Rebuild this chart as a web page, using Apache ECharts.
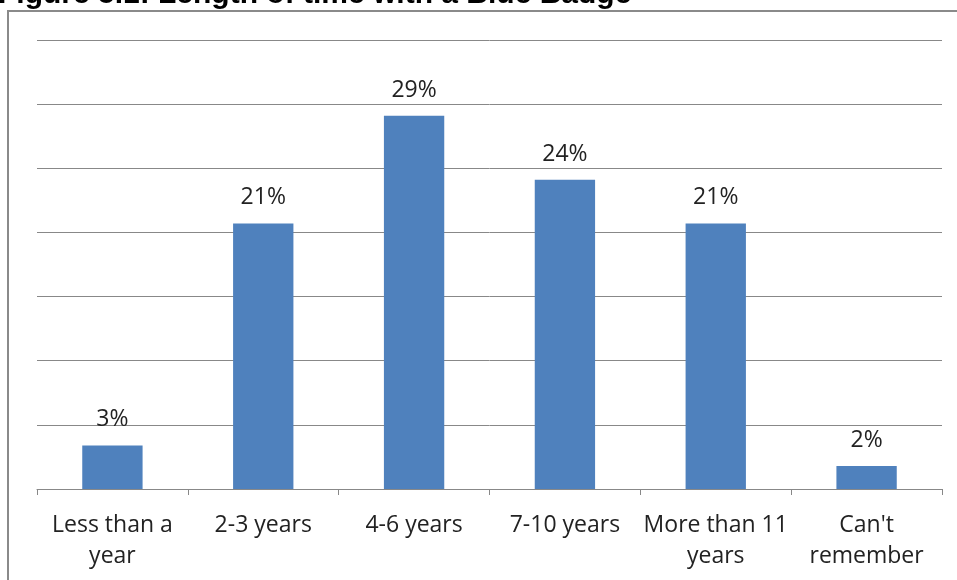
<!DOCTYPE html>
<html><head><meta charset="utf-8">
<script src="https://cdn.jsdelivr.net/npm/echarts@6/dist/echarts.min.js"></script>
<style>html,body{margin:0;padding:0;background:#fff}#c{width:957px;height:580px}</style>
</head><body><div id="c"></div>
<script>
const categories = ["Less than a\nyear", "2-3 years", "4-6 years", "7-10 years", "More than 11\nyears", "Can't\nremember"];
const values = [3.4, 20.7, 29.1, 24.1, 20.7, 1.8];
const titleText = "Figure 5.1: Length of time with a Blue Badge";

const chart = echarts.init(document.getElementById('c'), null, {renderer: 'canvas'});
chart.setOption({
  animation: false,
  grid: {left: 37, right: 15, top: 40, bottom: 91},
  graphic: [
    {type: 'rect', shape: {x: 8, y: 11, width: 960, height: 600}, style: {fill: 'none', stroke: '#8a8a8a', lineWidth: 2}},
    {type: 'text', left: -2, top: -20, style: {text: titleText, font: 'bold 30px "Liberation Sans", Arial', fill: '#000'}}
  ],
  xAxis: {
    type: 'category', data: categories,
    axisLine: {lineStyle: {color: '#888', width: 1}},
    axisTick: {show: true, length: 6, lineStyle: {color: '#888'}},
    axisLabel: {color: '#222', fontSize: 23, fontFamily: '"Open Sans", sans-serif', margin: 21, lineHeight: 31, interval: 0}
  },
  yAxis: {
    type: 'value', min: 0, max: 35, interval: 5,
    axisLabel: {show: false}, axisLine: {show: false}, axisTick: {show: false},
    splitLine: {lineStyle: {color: '#888', width: 1}}
  },
  series: [{
    type: 'bar', data: values, barWidth: '40%',
    itemStyle: {color: '#4f81bd'},
    label: {show: true, position: 'top', distance: 14, color: '#222', fontSize: 23, fontFamily: '"Open Sans", sans-serif',
      formatter: p => Math.round(p.value) + '%'}
  }]
});
</script></body></html>
